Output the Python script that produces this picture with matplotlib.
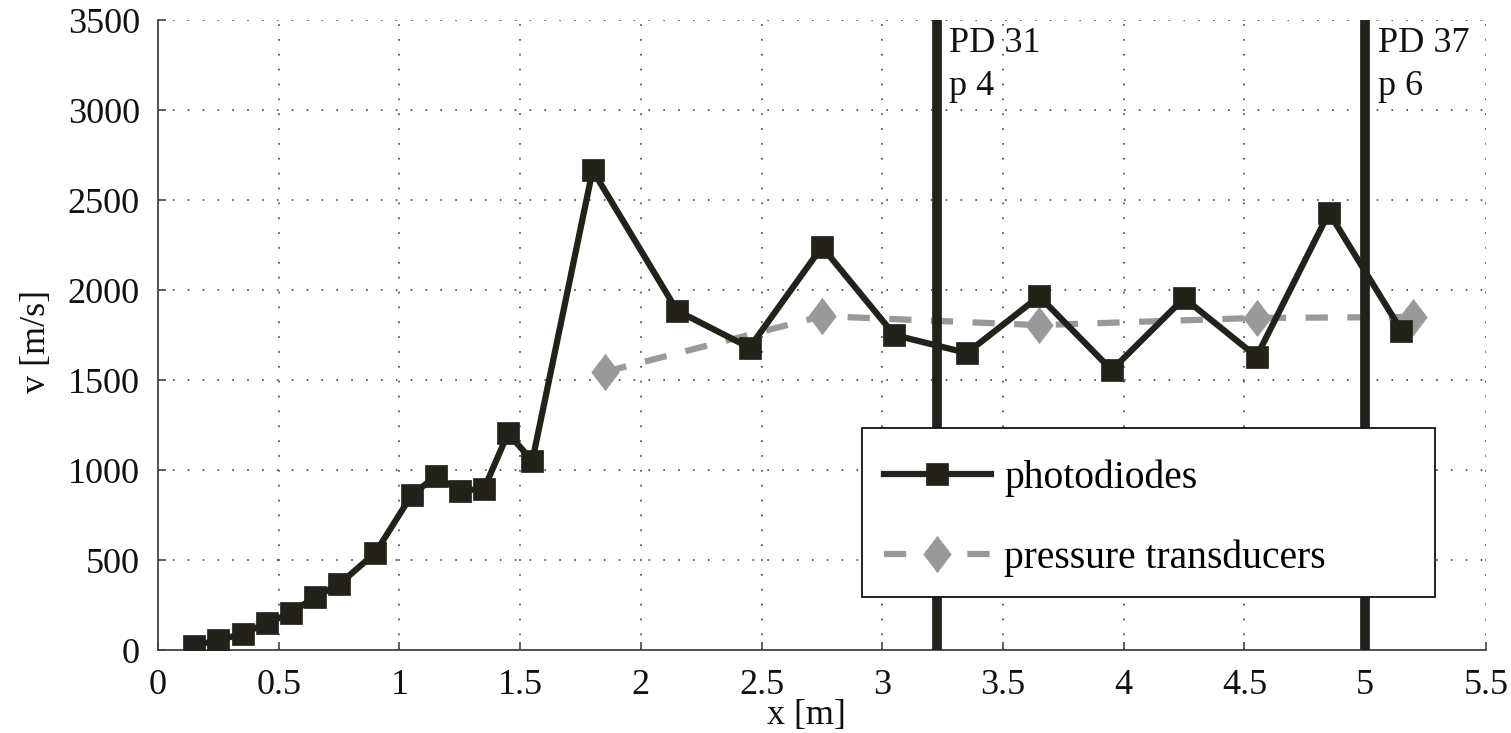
import numpy as np
import matplotlib
matplotlib.use("Agg")
import matplotlib.pyplot as plt
from matplotlib.patches import Rectangle

# photodiode velocities
x_pd = [0.15, 0.25, 0.35, 0.45, 0.55, 0.65, 0.75, 0.90, 1.05, 1.15, 1.25, 1.35, 1.45, 1.55,
        1.80, 2.15, 2.45, 2.75, 3.05, 3.35, 3.65, 3.95, 4.25, 4.55, 4.85, 5.15]
v_pd = [25, 55, 90, 150, 205, 295, 365, 540, 860, 965, 885, 895, 1205, 1050,
        2665, 1885, 1680, 2240, 1750, 1650, 1965, 1555, 1955, 1630, 2430, 1775]

# pressure transducer velocities
x_pt = [1.85, 2.75, 3.65, 4.55, 5.20]
v_pt = [1545, 1855, 1805, 1845, 1850]

# sensor positions
x_marks = [3.225, 5.0]
mark_labels = ["PD 31\np 4", "PD 37\np 6"]

xticks = np.arange(0, 5.51, 0.5)
xtick_labels = ["0", "0.5", "1", "1.5", "2", "2.5", "3", "3.5", "4", "4.5", "5", "5.5"]
yticks = np.arange(0, 3501, 500)

dark = "#22221a"
gray = "#999999"
txt = "#111111"

plt.rcParams["font.family"] = ["Liberation Serif", "DejaVu Serif"]
plt.rcParams["lines.scale_dashes"] = False

fig = plt.figure(figsize=(15.11, 7.33), dpi=100)
ax = fig.add_axes([0.1046, 0.1132, 0.8788, 0.8595])

diamond = [(0, 1), (0.76, 0), (0, -1), (-0.76, 0), (0, 1)]

ax.plot(x_pd, v_pd, color=dark, lw=4.5, marker="s", ms=16, mew=0.5,
        mfc=dark, mec=dark, label="photodiodes", zorder=3)
ax.plot(x_pt, v_pt, color=gray, lw=4.5, dashes=(16, 14), dash_capstyle="butt",
        marker=diamond, ms=26, mew=0.5, mfc=gray, mec=gray,
        label="pressure transducers", zorder=2)

for xm, lab in zip(x_marks, mark_labels):
    ax.axvline(xm, color=dark, lw=7, zorder=4)
    ax.annotate(lab, xy=(xm, 3500), xytext=(9, -5), textcoords="offset points",
                ha="left", va="top", fontsize=26, color=txt, linespacing=1.42)

ax.set_xlim(0, 5.5)
ax.set_ylim(0, 3500)
ax.set_xticks(xticks)
ax.set_xticklabels(xtick_labels)
ax.set_yticks(yticks)

ax.grid(True, color="#444444", linestyle=(0, (1.2, 9.5)), linewidth=1.2)
ax.set_axisbelow(True)
for s in ["top", "right"]:
    ax.spines[s].set_visible(False)
for s in ["left", "bottom"]:
    ax.spines[s].set_color("#444444")
    ax.spines[s].set_linewidth(1.3)

ax.tick_params(direction="in", length=6, width=1.2, color="#444444",
               labelsize=26, labelcolor=txt)
ax.tick_params(axis="x", pad=14)
ax.tick_params(axis="y", pad=13)
ax.set_xlabel("x [m]", fontsize=26, color=txt)
ax.set_ylabel("v [m/s]", fontsize=26, color=txt)
ax.xaxis.set_label_coords(0.488, -0.077)
ax.yaxis.set_label_coords(-0.079, 0.49)

# legend box
ax.add_patch(Rectangle((0.5301, 0.0841), 0.4315, 0.2683, transform=ax.transAxes,
                       facecolor="white", edgecolor=txt, linewidth=1.3, zorder=8))
leg = ax.legend(loc="center left", bbox_to_anchor=(0.5467, 0.2088),
                fontsize=28.5, numpoints=1, handlelength=2.7,
                handletextpad=0.33, borderpad=0, borderaxespad=0,
                labelspacing=1.07, frameon=False)
leg.set_zorder(9)

fig.savefig("out.png", dpi=100)
